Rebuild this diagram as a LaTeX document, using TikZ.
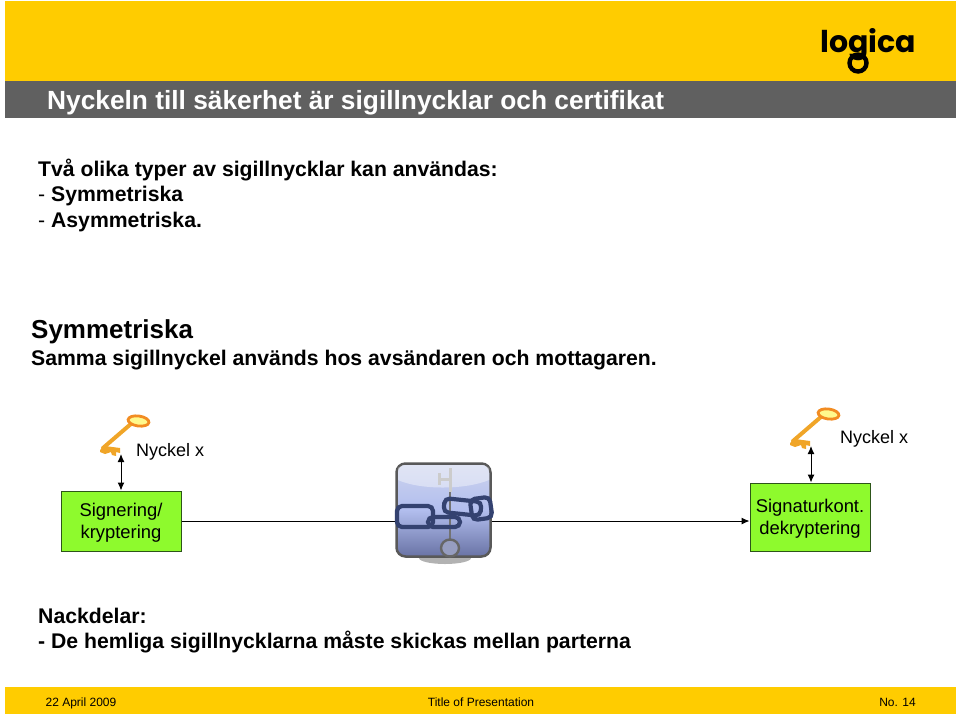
\documentclass[tikz,border=0pt]{standalone}
\usepackage{fontspec}
\setmainfont{Liberation Sans}
\newfontfamily\logofont{Poppins}
\usepackage{xcolor}
\usetikzlibrary{arrows.meta,positioning}
\definecolor{bandyellow}{RGB}{255,204,0}
\definecolor{bandgrey}{RGB}{96,96,96}
\definecolor{boxgreen}{RGB}{142,250,45}
\definecolor{boxline}{RGB}{45,85,25}
\definecolor{chainblue}{RGB}{52,66,112}
\definecolor{keygold}{RGB}{240,165,40}
\definecolor{lockpale}{RGB}{205,212,238}
\definecolor{lockmid}{RGB}{178,190,238}
\definecolor{lockdark}{RGB}{105,115,165}
\newcommand{\boxstrut}{\rule{0pt}{17pt}}
\tikzset{%
	band/.style     = {fill=bandyellow, draw=none},
	bodytext/.style = {anchor=base west, inner sep=0pt, font=\fontsize{21.2}{24}\bfseries\selectfont},
	foot/.style     = {inner sep=0pt, anchor=base, font=\fontsize{12}{15}\selectfont},
	process/.style  = {draw=boxline, line width=1pt, fill=boxgreen, rectangle, align=center, inner sep=0pt, font=\fontsize{18.4}{22}\selectfont},
	keylabel/.style = {anchor=base west, inner sep=0pt, font=\fontsize{18}{22}\selectfont},
	arrow/.style    = {line width=1pt, -{Latex[length=8pt,width=7pt]}},
	keyarrow/.style = {line width=1pt, {Latex[length=8pt,width=7pt]}-{Latex[length=8pt,width=7pt]}},
	chainlink/.style= {draw=chainblue, line width=4.2pt, rounded corners=5pt},
	key/.pic = {
		\draw[line width=4pt, draw=keygold, line cap=round] (-2,1) -- (27,-24);
		\fill[keygold] (-5,3) -- (0,-1) -- (15,1) -- (15,6) -- (11,5) -- (11,9) -- (7,8) -- (6,5) -- (0,7) -- (-5,5) -- cycle;
		\draw[line width=2.8pt, draw=keygold!85!red, fill=yellow!45!white, rotate around={-8:(33.5,-26)}] (33.5,-26) ellipse (10.5 and 5);
	},
}
\begin{document}
\begin{tikzpicture}[x=1pt,y=-1pt,node distance = 2cm]
	\useasboundingbox (0,0) rectangle (960,716);
	% header bands
	\fill[band] (5,1) rectangle (956,81);
	\fill[bandgrey] (5,81) rectangle (956,118);
	\node[anchor=base west, inner sep=0pt, text=white, font=\fontsize{26.3}{28}\bfseries\selectfont] (title) at (47,109) {Nyckeln till säkerhet är sigillnycklar och certifikat};
	\node[anchor=base, inner sep=0pt, font=\fontsize{30}{30}\logofont\bfseries\selectfont] (logo) at (868.5,52) {logica};
	\draw[line width=4.4pt] (858,63) circle (8.5);
	% upper text
	\node[bodytext] (intro1) at (38,176) {Två olika typer av sigillnycklar kan användas:};
	\node[bodytext] (intro2) at (38,201) {{\mdseries -} Symmetriska};
	\node[bodytext] (intro3) at (38,227) {{\mdseries -} Asymmetriska.};
	\node[bodytext, font=\fontsize{26}{28}\bfseries\selectfont] (head) at (31,338) {Symmetriska};
	\node[bodytext] (sub) at (31,365) {Samma sigillnyckel används hos avsändaren och mottagaren.};
	% boxes
	\node[process, minimum width=120pt, minimum height=60pt] (sign) at (121,521) {\boxstrut Signering/\\kryptering};
	\node[process, minimum width=120pt, minimum height=68pt] (check) at (810,517) {\boxstrut Signaturkont.\\dekryptering};
	\draw[arrow] (sign.east |- 0,521) -- (check.west |- 0,521);
	% chain picture
	\fill[black!30] (445,558) ellipse (26 and 6);
	\node[draw=black!65, line width=2.5pt, rounded corners=9pt, minimum width=94pt, minimum height=93pt, inner sep=0pt, top color=lockpale, bottom color=lockdark, middle color=lockmid] (lock) at (443.5,510) {};
	\fill[white, opacity=.4] (398,480) .. controls (420,490) and (465,490) .. (489,480) -- (489,468) -- (484,465) -- (403,465) -- (398,468) -- cycle;
	\draw[black!20, line width=3pt] (450,468) -- (450,492);
	\draw[black!20, line width=3pt] (439,473) -- (439,485);
	\draw[black!20, line width=3pt] (439,479) -- (450,479);
	\draw[black!55, line width=2.4pt] (450,492) -- (450,541);
	\draw[black!60, line width=2.4pt, fill=lockdark!70!white] (450,548) ellipse (9 and 8.5);
	\draw[chainlink] (397,506) rectangle (433,527);
	\draw[chainlink] (428,517) rectangle (460,527);
	\draw[chainlink, rotate around={-6:(462,507)}] (444,500) rectangle (481,514);
	\draw[chainlink, rotate around={8:(481,508)}] (471,498) rectangle (491,519);
	% keys and labels
	\pic (keyleft) at (105,447) {key};
	\pic (keyright) at (795,440) {key};
	\coordinate (keyleftend) at (121,454);
	\coordinate (keyrightend) at (811,446);
	\draw[keyarrow] (keyleftend) -- (sign.north -| keyleftend);
	\draw[keyarrow] (keyrightend) -- (check.north -| keyrightend);
	\node[keylabel] (labelleft) at (136,456) {Nyckel x};
	\node[keylabel] (labelright) at (840,443) {Nyckel x};
	% lower text
	\node[bodytext] (cons1) at (38,623) {Nackdelar:};
	\node[bodytext] (cons2) at (38,648) {- De hemliga sigillnycklarna måste skickas mellan parterna};
	% footer
	\fill[band] (5,687) rectangle (956,714);
	\node[foot] (date) at (81,706) {22 April 2009};
	\node[foot] (pres) at (481,706) {Title of Presentation};
	\node[foot] (page) at (897.5,706) {No. 14};
\end{tikzpicture}
\end{document}
